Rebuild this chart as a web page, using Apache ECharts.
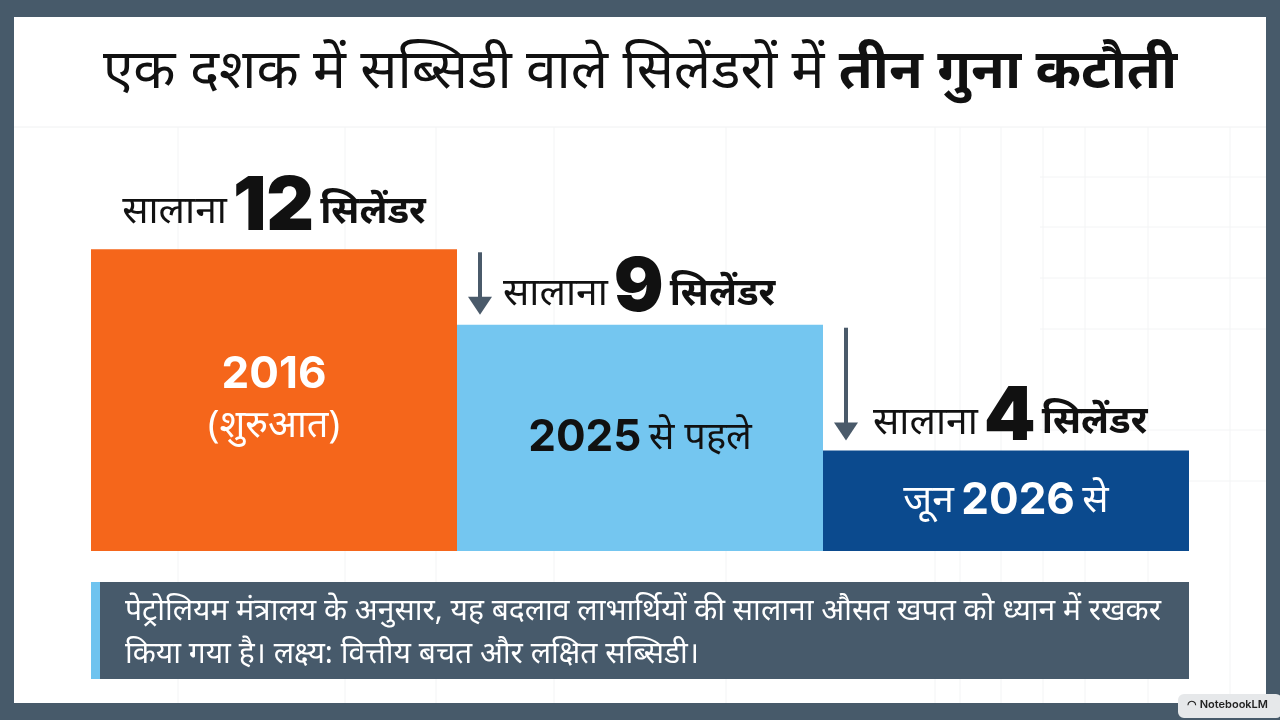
<!DOCTYPE html>
<html lang="hi">
<head>
<meta charset="utf-8">
<title>सब्सिडी वाले सिलेंडर</title>
<script src="https://cdn.jsdelivr.net/npm/echarts@6/dist/echarts.min.js"></script>
<style>
html, body { margin: 0; padding: 0; background: #475a6a; }
#main { width: 1280px; height: 720px; }
</style>
</head>
<body>
<div id="main"></div>
<script>
// data
var categories = ['2016 (शुरुआत)', '2025 से पहले', 'जून 2026 से'];
var cylinders = [12, 9, 4];
var barColors = ['#f5661b', '#74c6f0', '#0b4a8e'];

var hindi = '"Noto Sans", "Noto Sans Devanagari", Lato, sans-serif';
var num = 'Inter, Lato, "Open Sans", sans-serif';

var chart = echarts.init(document.getElementById('main'));

// label styles (rich)
var topRich = {
  a: { fontFamily: hindi, fontSize: 39, fontWeight: 'normal', color: '#111', padding: [10, 0, 0, 0] },
  n: { fontFamily: num, fontSize: 74, fontWeight: 900, color: '#111', padding: [0, 6, 0, 6] },
  b: { fontFamily: hindi, fontSize: 38, fontWeight: 'bold', color: '#111', padding: [10, 0, 0, 0] }
};
var innerRich = {
  y: { fontFamily: num, fontSize: 44, fontWeight: 700, color: '#fff', lineHeight: 52 },
  yk: { fontFamily: num, fontSize: 44, fontWeight: 700, color: '#111', padding: [0, 4, 0, 0] },
  s: { fontFamily: hindi, fontSize: 38, fontWeight: 'normal', color: '#fff', lineHeight: 50 },
  sk: { fontFamily: hindi, fontSize: 38, fontWeight: 'normal', color: '#111' },
  w: { fontFamily: hindi, fontSize: 39, fontWeight: 'normal', color: '#fff' },
  yw: { fontFamily: num, fontSize: 44, fontWeight: 700, color: '#fff', padding: [0, 4, 0, 4] }
};
var innerText = [
  '{y|2016}\n{s|(शुरुआत)}',
  '{yk|2025} {sk|से पहले}',
  '{w|जून} {yw|2026} {w|से}'
];
var topPos = [['50%', -42], [46, -36], [50, -33]];
var topAlign = ['center', 'left', 'left'];

function frame() {
  var g = [];
  g.push({ type: 'rect', z: -10, shape: { x: 14, y: 17, width: 1252, height: 686 }, style: { fill: '#ffffff' } });
  // faint background grid
  g.push({ type: 'line', z: -9, shape: { x1: 14, y1: 127, x2: 1266, y2: 127 }, style: { stroke: '#f0f1f2', lineWidth: 1 } });
  [178, 345, 436, 554, 726, 935, 960, 1001, 1043, 1085, 1148, 1230].forEach(function (x) {
    g.push({ type: 'line', z: -9, shape: { x1: x, y1: 127, x2: x, y2: 703 }, style: { stroke: '#f3f4f5', lineWidth: 1 } });
  });
  [177, 227, 278, 329, 430, 481].forEach(function (y) {
    g.push({ type: 'line', z: -9, shape: { x1: 1040, y1: y, x2: 1266, y2: y }, style: { stroke: '#f3f4f5', lineWidth: 1 } });
  });
  // note box
  g.push({ type: 'rect', shape: { x: 91, y: 582, width: 1098, height: 97 }, style: { fill: '#475a6b' } });
  g.push({ type: 'rect', shape: { x: 91, y: 582, width: 9, height: 97 }, style: { fill: '#6ec3ef' } });
  g.push({
    type: 'text', x: 125, y: 590,
    style: {
      text: 'पेट्रोलियम मंत्रालय के अनुसार, यह बदलाव लाभार्थियों की सालाना औसत खपत को ध्यान में रखकर\nकिया गया है। लक्ष्य: वित्तीय बचत और लक्षित सब्सिडी।',
      fill: '#ffffff', fontFamily: hindi, fontSize: 30, lineHeight: 43
    }
  });
  // watermark
  g.push({ type: 'rect', shape: { x: 1178, y: 694, width: 104, height: 24, r: 6 }, style: { fill: '#e6e8ea' } });
  g.push({ type: 'text', x: 1187, y: 699, style: { text: '◠ NotebookLM', fill: '#222', fontFamily: num, fontSize: 11, fontWeight: 600 } });
  return g;
}

chart.setOption({
  backgroundColor: '#475a6a',
  animation: false,
  title: {
    left: 'center', top: 40,
    text: '{r|एक दशक में सब्सिडी वाले सिलेंडरों में }{b|तीन गुना कटौती}',
    textStyle: {
      fontWeight: 'normal',
      rich: {
        r: { fontFamily: hindi, fontSize: 55, fontWeight: 'normal', color: '#111' },
        b: { fontFamily: hindi, fontSize: 55, fontWeight: 'bold', color: '#111' }
      }
    }
  },
  grid: { left: 91, right: 91, top: 199, bottom: 169 },
  xAxis: { type: 'category', data: categories, show: false },
  yAxis: { type: 'value', min: 0, max: 14, show: false },
  graphic: frame(),
  series: [
    {
      type: 'bar',
      barWidth: '100%',
      barCategoryGap: 0,
      data: cylinders.map(function (v, i) {
        return {
          value: v,
          itemStyle: { color: barColors[i] },
          label: {
            show: true, position: 'inside', align: 'center',
            formatter: innerText[i], rich: innerRich
          }
        };
      })
    },
    {
      type: 'bar',
      barWidth: '100%',
      barGap: '-100%',
      silent: true,
      itemStyle: { color: 'rgba(0,0,0,0)' },
      data: cylinders.map(function (v, i) {
        return {
          value: v,
          label: {
            show: true, position: topPos[i], align: topAlign[i], verticalAlign: 'middle',
            formatter: '{a|सालाना}{n|' + v + '}{b|सिलेंडर}', rich: topRich
          }
        };
      })
    }
  ]
});

// down arrows between steps
var arrows = [];
var band = (1280 - 182) / categories.length;
for (var i = 1; i < cylinders.length; i++) {
  var cur = chart.convertToPixel({ gridIndex: 0 }, [i, cylinders[i]]);
  var prev = chart.convertToPixel({ gridIndex: 0 }, [i - 1, cylinders[i - 1]]);
  var x = cur[0] - band / 2 + 23;
  var y1 = prev[1] + 3, y2 = cur[1] - 10;
  arrows.push({ type: 'line', z: 20, shape: { x1: x, y1: y1, x2: x, y2: y2 - 14 }, style: { stroke: '#4a5a6a', lineWidth: 4 } });
  arrows.push({ type: 'polygon', z: 20, shape: { points: [[x - 12, y2 - 18], [x + 12, y2 - 18], [x, y2]] }, style: { fill: '#4a5a6a' } });
}
chart.setOption({ graphic: { elements: frame().concat(arrows) } });
</script>
</body>
</html>
